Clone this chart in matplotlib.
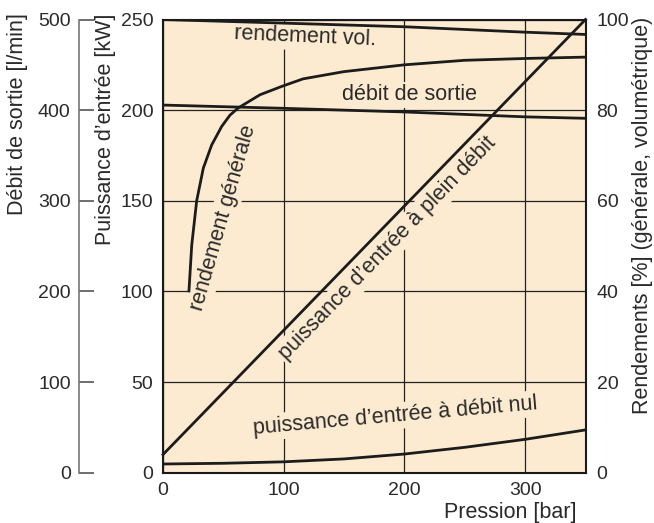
import matplotlib.pyplot as plt

plt.rcParams['font.family'] = ['Liberation Sans', 'DejaVu Sans']

pression_vol = [0, 100, 200, 300, 350]
rendement_vol = [100, 99.2, 98.4, 97.2, 96.7]  # %

pression_gen = [21.5, 23.8, 27.9, 33.4, 40.3, 48.6, 55.5, 62.4, 80.4, 99, 116, 150, 200, 250, 300, 350]
rendement_gen = [40.1, 50.2, 60.0, 67.2, 72.3, 76.4, 78.9, 80.5, 83.4, 85.3, 86.9, 88.5, 90.0, 91.0, 91.4, 91.7]  # %

pression_debit = [0, 100, 200, 300, 350]
debit_sortie = [405.6, 402, 398, 392.6, 391]  # l/min

pression_plein = [0, 350]
puissance_plein = [10, 250]  # kW

pression_nul = [0, 50, 100, 150, 200, 250, 300, 350]
puissance_nul = [4.8, 5.2, 6.0, 7.6, 10.3, 14.0, 18.4, 23.6]  # kW

bg = '#FCEBD0'
txt = '#2a2a2a'
fs = 14      # graduations
fl = 15.5    # titres d'axes et libellés des courbes

fig = plt.figure(figsize=(6.54, 5.23), dpi=100)
ax = fig.add_axes([163 / 654, 1 - 472.7 / 523, 422.5 / 654, 453.2 / 523])
ax.set_facecolor(bg)
ax.set_xlim(0, 350)
ax.set_ylim(0, 250)
ax.set_xticks([0, 100, 200, 300])
ax.set_yticks([0, 50, 100, 150, 200, 250])
ax.grid(True, color='#222222', lw=0.9)
ax.set_axisbelow(True)
ax.tick_params(length=0, labelsize=fs, labelcolor=txt, pad=7)
for s in ax.spines.values():
    s.set_linewidth(1.5)
    s.set_color('#1a1a1a')
ax.set_xlabel('Pression [bar]', fontsize=fl, color=txt, loc='right')
ax.xaxis.set_label_coords((576 - 163) / 422.5, -0.064)
ax.set_ylabel('Puissance d\u2019entrée [kW]', fontsize=fl, color=txt, loc='top')
ax.yaxis.set_label_coords((116 - 163) / 422.5, 1.014)

# axe extérieur : débit
ax_out = ax.twinx()
ax_out.set_ylim(0, 500)
ax_out.set_yticks([0, 100, 200, 300, 400, 500])
ax_out.yaxis.set_ticks_position('left')
ax_out.yaxis.set_label_position('left')
for k in ['top', 'right', 'bottom']:
    ax_out.spines[k].set_visible(False)
ax_out.spines['left'].set_position(('axes', (79 - 163) / 422.5))
ax_out.spines['left'].set_color('#777777')
ax_out.spines['left'].set_linewidth(1.2)
ax_out.tick_params(axis='y', direction='in', length=11, width=1.2, color='#555555',
                   labelsize=fs, labelcolor=txt, pad=6)
ax_out.set_ylabel('Débit de sortie [l/min]', fontsize=fl, color=txt, loc='top')
ax_out.yaxis.set_label_coords((28 - 163) / 422.5, 1.014)

# axe droit : rendements
ax_r = ax.twinx()
ax_r.set_ylim(0, 100)
ax_r.set_yticks([0, 20, 40, 60, 80, 100])
for s in ax_r.spines.values():
    s.set_visible(False)
ax_r.tick_params(axis='y', length=0, labelsize=fs, labelcolor=txt, pad=8)
ax_r.set_ylabel('Rendements [%] (générale, volumétrique)', fontsize=fl, color=txt)
ax_r.yaxis.set_label_coords((632 - 163) / 422.5, (472.7 - 215) / 453.2)

lc = '#1c1c1c'
lw = 2.0
ax.plot(pression_plein, puissance_plein, color=lc, lw=lw, zorder=2, clip_on=False)
ax.plot(pression_nul, puissance_nul, color=lc, lw=lw, zorder=2)
ax_out.plot(pression_debit, debit_sortie, color=lc, lw=lw)
ax_r.plot(pression_vol, rendement_vol, color=lc, lw=lw)
ax_r.plot(pression_gen, rendement_gen, color=lc, lw=lw)

box = dict(facecolor=bg, edgecolor='none', pad=2)
labels = [
    ('rendement vol.', 117.6, 240.3, -2.5),
    ('débit de sortie', 203.8, 208.4, 0),
    ('rendement générale', 49.7, 140.5, 74),
    ('puissance d\u2019entrée à plein débit', 186.4, 124, 45.9),
    ('puissance d\u2019entrée à débit nul', 192.2, 31.3, 5),
]
for s, x, y, r in labels:
    ax.text(x, y, s, rotation=r, ha='center', va='center', fontsize=fl, color=txt,
            rotation_mode='anchor', bbox=box, zorder=1.5)

fig.savefig('out.png', dpi=100, facecolor='white')
